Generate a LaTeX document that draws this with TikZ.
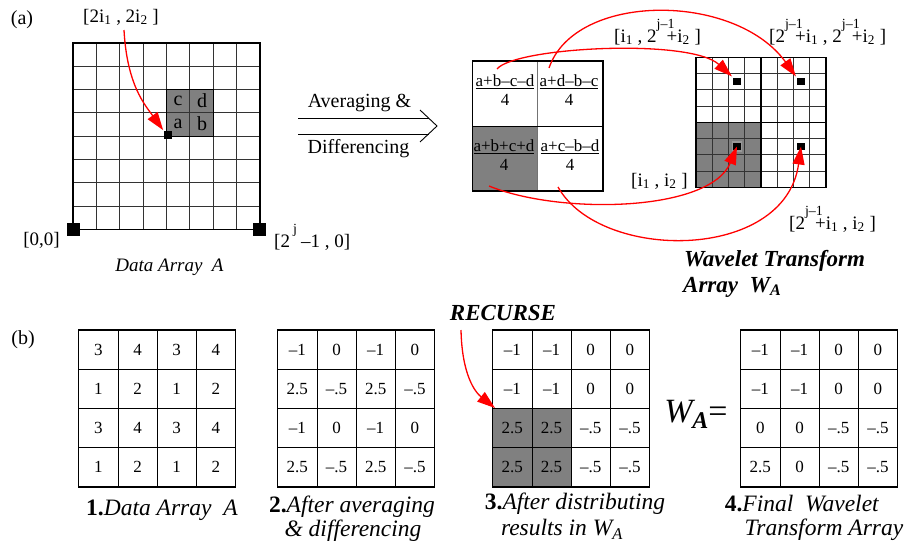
\documentclass[tikz,border=0pt]{standalone}
\usepackage{fontspec}
\setmainfont{Liberation Serif}
\usetikzlibrary{arrows.meta,calc}
\newcommand\hsup[2][10pt]{\makebox[#1][l]{\raisebox{14pt}{\fontsize{14}{14}\selectfont #2}}}
\tikzset{
  lbl/.style={font=\fontsize{19}{21}\selectfont, inner sep=0pt},
  biglbl/.style={font=\fontsize{20}{22}\selectfont, inner sep=0pt},
  cellnum/.style={font=\fontsize{17}{19}\selectfont, inner sep=0pt},
  fracnode/.style={font=\fontsize{17}{19}\selectfont, inner sep=0pt, align=center},
  capt/.style={font=\fontsize{23.5}{25}\selectfont, inner sep=0pt},
  ttl/.style={font=\fontsize{23}{25}\selectfont\bfseries\itshape, inner sep=0pt, anchor=west},
  redarrow/.style={draw=red, line width=1.3pt, -{Triangle[length=18pt,width=12pt]}, red},
  sqbig/.style={fill=black, minimum size=13pt, inner sep=0pt, draw=none},
  sqsmall/.style={fill=black, minimum size=9pt, inner sep=0pt, draw=white, line width=1.2pt},
  gridline/.style={line width=0.7pt, draw=black!80},
  frameline/.style={line width=1.6pt, draw=black},
  shade/.style={fill=black!50},
}
\begin{document}
\begin{tikzpicture}[x=1pt,y=-1pt]
\useasboundingbox (0,0) rectangle (909,544);

% ---------------- (a) ----------------
\node[biglbl] (la) at (22,20) {(a)};

% data array A (8x8)
\fill[shade] (166.3,89.4) rectangle (213.1,136.1);
\foreach \i in {1,...,7} {
  \draw[gridline] ({72.7+\i*23.41},42.7) -- ({72.7+\i*23.41},229.3);
  \draw[gridline] (72.7,{42.7+\i*23.33}) -- (260,{42.7+\i*23.33});
}
\draw[line width=1pt] (166.3,89.4) rectangle (213.1,136.1);
\draw[frameline] (72.7,42.7) rectangle (260,229.3);
\node[biglbl] (lc) at (178,101) {c};
\node[biglbl] (ld) at (202,101) {d};
\node[biglbl] (laa) at (178,124) {a};
\node[biglbl] (lb) at (202,124) {b};
\node[sqsmall, draw=none, minimum size=8.5pt] (p) at (168,135) {};
\node[sqbig] (c00) at (73.3,229.5) {};
\node[sqbig] (cj0) at (259.5,229.5) {};
\node[lbl] (l2i) at (121,17) {[2i\textsubscript{1} , 2i\textsubscript{2} ]};
\node[lbl] (l00) at (41.5,240) {[0,0]};
\node[lbl, anchor=base west] (lj0) at (274,247) {[2\,\hsup[8pt]{j}–1 , 0]};
\node[lbl, font=\fontsize{19}{21}\selectfont\itshape] (lda) at (169.5,267) {Data Array\ \ A};
\coordinate (s0) at (124,30);
\draw[redarrow] (s0) .. controls (127,85) and (145,105) .. (p.north west);

% averaging arrow
\coordinate (avgL) at (298,118);
\draw[line width=0.9pt] (avgL) -- ++(131,0);
\draw[line width=0.9pt] ($(avgL)+(0,16)$) -- ++(131,0);
\draw[line width=0.9pt] ($(avgL)+(122,-8)$) -- ($(avgL)+(139,8)$) -- ($(avgL)+(122,24)$);
\node[biglbl] (tavg) at (359.5,103.5) {Averaging \&};
\node[biglbl] (tdif) at (358.5,148.5) {Differencing};

% 2x2 block of averages / differences
\fill[shade] (472.7,126) rectangle (537.7,191);
\draw[line width=1pt, draw=black!55] (537.7,61) -- (537.7,191);
\draw[line width=1pt] (472.7,126) -- (603,126);
\draw[line width=1.2pt] (472.7,61) rectangle (603,191);
\node[fracnode] (f1) at (505,90) {\underline{a+b–c–d}\\4};
\node[fracnode] (f2) at (569,90) {\underline{a+d–b–c}\\4};
\node[fracnode] (f3) at (504,155) {\underline{a+b+c+d}\\4};
\node[fracnode] (f4) at (570,155) {\underline{a+c–b–d}\\4};

% wavelet transform array (8x8)
\fill[shade] (696,122.3) rectangle (761,187.3);
\foreach \i in {1,...,7} {
  \draw[gridline] ({696+\i*16.25},57.3) -- ({696+\i*16.25},187.3);
  \draw[gridline] (696,{57.3+\i*16.25}) -- (826,{57.3+\i*16.25});
}
\draw[line width=1.3pt] (761,57.3) -- (761,187.3);
\draw[line width=1.3pt] (696,122.3) -- (826,122.3);
\draw[frameline] (696,57.3) rectangle (826,187.3);
\node[sqsmall] (q1) at (737,81.5) {};
\node[sqsmall] (q2) at (801,81.5) {};
\node[sqsmall, draw=black!40] (q3) at (737,146.5) {};
\node[sqsmall] (q4) at (801,146.5) {};

\node[lbl, anchor=base west] (lq1) at (614,42) {[i\textsubscript{1} , 2\hsup{j–1}+i\textsubscript{2} ]};
\node[lbl, anchor=base west] (lq2) at (769,42) {[2\hsup{j–1}+i\textsubscript{1} , 2\hsup{j–1}+i\textsubscript{2} ]};
\node[lbl, anchor=base west] (lq3) at (631,186) {[i\textsubscript{1} , i\textsubscript{2} ]};
\node[lbl, anchor=base west] (lq4) at (789,229) {[2\hsup{j–1}+i\textsubscript{1} , i\textsubscript{2} ]};

\coordinate (s1) at (497,69);
\coordinate (s2) at (549,68);
\coordinate (s3) at (489,186);
\coordinate (s4) at (558,187);
\draw[redarrow] (s1) .. controls (515,47) and (690,38) .. (q1.north west);
\draw[redarrow] (s2) .. controls (575,-8) and (735,-8) .. (q2.north west);
\draw[redarrow] (s3) .. controls (560,215) and (710,212) .. (q3.center);
\draw[redarrow] (s4) .. controls (600,262) and (785,262) .. (q4.center);

\node[ttl] (wt1) at (684,261) {Wavelet Transform};
\node[ttl] (wt2) at (683,287) {Array\ \ W\textsubscript{A}};

% ---------------- (b) ----------------
\node[biglbl] (lbb) at (23,340) {(b)};

\def\cs{39.2}
\foreach \gx/\gn in {78.7/1,277.7/2,492.7/3,740.7/4} {
  \ifnum\gn=3 \fill[shade] (\gx,{330+2*\cs}) rectangle ({\gx+2*\cs},{330+4*\cs}); \fi
  \foreach \i in {1,2,3} {
    \draw[line width=0.8pt] ({\gx+\i*\cs},330) -- ({\gx+\i*\cs},{330+4*\cs});
    \draw[line width=0.8pt] (\gx,{330+\i*\cs}) -- ({\gx+4*\cs},{330+\i*\cs});
  }
  \draw[line width=1.4pt] (\gx,330) rectangle ({\gx+4*\cs},{330+4*\cs});
}
\foreach \v [count=\k from 0] in {3,4,3,4,1,2,1,2,3,4,3,4,1,2,1,2} {
  \pgfmathtruncatemacro\r{div(\k,4)}\pgfmathtruncatemacro\c{mod(\k,4)}
  \node[cellnum] (ga\k) at ({78.7+(\c+0.5)*\cs},{330+(\r+0.5)*\cs}) {\v};
}
\foreach \v [count=\k from 0] in {–1,0,–1,0,2.5,–.5,2.5,–.5,–1,0,–1,0,2.5,–.5,2.5,–.5} {
  \pgfmathtruncatemacro\r{div(\k,4)}\pgfmathtruncatemacro\c{mod(\k,4)}
  \node[cellnum] (gb\k) at ({277.7+(\c+0.5)*\cs},{330+(\r+0.5)*\cs}) {\v};
}
\foreach \v [count=\k from 0] in {–1,–1,0,0,–1,–1,0,0,2.5,2.5,–.5,–.5,2.5,2.5,–.5,–.5} {
  \pgfmathtruncatemacro\r{div(\k,4)}\pgfmathtruncatemacro\c{mod(\k,4)}
  \node[cellnum] (gc\k) at ({492.7+(\c+0.5)*\cs},{330+(\r+0.5)*\cs}) {\v};
}
\foreach \v [count=\k from 0] in {–1,–1,0,0,–1,–1,0,0,0,0,–.5,–.5,2.5,0,–.5,–.5} {
  \pgfmathtruncatemacro\r{div(\k,4)}\pgfmathtruncatemacro\c{mod(\k,4)}
  \node[cellnum] (gd\k) at ({740.7+(\c+0.5)*\cs},{330+(\r+0.5)*\cs}) {\v};
}

\node[ttl, anchor=center] (rec) at (503,313) {RECURSE};
\coordinate (rs) at (461,330);
\coordinate (g3c) at (495,408);
\draw[redarrow] (rs) .. controls (462,375) and (475,392) .. (g3c);

\node[inner sep=0pt, font=\fontsize{34}{36}\selectfont] (wa) at (696,414) {\textit{W}\kern-3pt\raisebox{-6pt}{\fontsize{24}{26}\selectfont\bfseries\itshape A}=};

\node[capt] (c1) at (162,510) {\textbf{1.}\textit{Data Array\ \ A}};
\node[capt] (c2a) at (352,507) {\textbf{2.}\textit{After averaging}};
\node[capt] (c2b) at (353,531) {\textit{\& differencing}};
\node[capt] (c3a) at (575,504) {\textbf{3.}\textit{After distributing}};
\node[capt] (c3b) at (562,529) {\textit{results in W\textsubscript{A}}};
\node[capt] (c4a) at (802,504) {\textbf{4.}\textit{Final\ \ Wavelet}};
\node[capt] (c4b) at (824,530) {\textit{Transform Array}};
\end{tikzpicture}
\end{document}
